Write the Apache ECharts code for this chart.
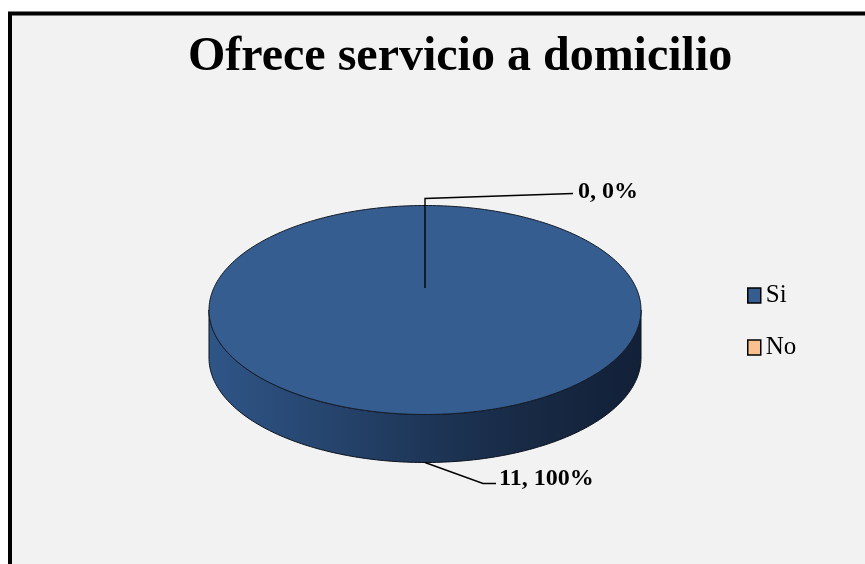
<!DOCTYPE html>
<html><head><meta charset="utf-8">
<script src="https://cdn.jsdelivr.net/npm/echarts@6/dist/echarts.min.js"></script>
<style>html,body{margin:0;padding:0;background:#fff}#c{width:865px;height:564px}</style>
</head><body><div id="c"></div>
<script>
const titleText = 'Ofrece servicio a domicilio';
const categories = ['Si', 'No'];
const values = [11, 0];

const sliceColors = ['#365d8f', '#fac08f'];
const total = values.reduce((a, b) => a + b, 0);
const starts = []; let acc = 0; values.forEach(v => { starts.push(acc); acc += v; });

const PIE = { cx: 425, cy: 310, rx: 216, ry: 104.5, depth: 48 };
function pt(th, dy, f) { f = f == null ? 1 : f; return [PIE.cx + f * PIE.rx * Math.sin(th), PIE.cy - f * PIE.ry * Math.cos(th) + (dy || 0)]; }
function arcPts(t0, t1, dy) {
  const n = Math.max(2, Math.ceil(Math.abs(t1 - t0) / (Math.PI / 180)));
  const out = [];
  for (let i = 0; i <= n; i++) out.push(pt(t0 + (t1 - t0) * i / n, dy));
  return out;
}
const sideGrad = new echarts.graphic.LinearGradient(PIE.cx - PIE.rx, 0, PIE.cx + PIE.rx, 0, [
  { offset: 0, color: '#2f5587' },
  { offset: 0.25, color: '#274670' },
  { offset: 0.5, color: '#1e3658' },
  { offset: 0.75, color: '#172943' },
  { offset: 1, color: '#122038' }
], true);

function makeRender(idx) {
  return function (params, api) {
    const v = api.value(0);
    const th0 = 2 * Math.PI * starts[idx] / total;
    const th1 = 2 * Math.PI * (starts[idx] + v) / total;
    const children = [];
    if (v > 0) {
      const f0 = Math.max(th0, Math.PI / 2), f1 = Math.min(th1, 3 * Math.PI / 2);
      if (f1 > f0) {
        const top = arcPts(f0, f1, 0), bot = arcPts(f1, f0, PIE.depth);
        children.push({ type: 'polygon', shape: { points: top.concat(bot) },
          style: { fill: sideGrad, stroke: '#0b121e', lineWidth: 1 } });
      }
      let pts = arcPts(th0, th1, 0);
      if (th1 - th0 < 2 * Math.PI - 1e-9) pts = [[PIE.cx, PIE.cy]].concat(pts);
      children.push({ type: 'polygon', shape: { points: pts },
        style: { fill: sliceColors[idx], stroke: '#141c28', lineWidth: 1 } });
    }
    // label
    const thm = (th0 + th1) / 2;
    const pct = Math.round(v / total * 100);
    const txt = v + ', ' + pct + '%';
    let line, tx, ty;
    if (Math.cos(thm) < 0) {
      const a = pt(thm, PIE.depth);
      const p1 = [a[0] + 58, a[1] + 21];
      const p2 = [p1[0] + 13, p1[1]];
      line = [a, p1, p2]; tx = p2[0] + 3; ty = p2[1] - 5;
    } else {
      const a = v > 0 ? pt(thm, 0, 0.8) : pt(thm, 0, 0.21);
      const p1 = [a[0], PIE.cy - PIE.ry - 7];
      const p2 = [p1[0] + 148, p1[1] - 5];
      line = [a, p1, p2]; tx = p2[0] + 5; ty = p2[1] - 2;
    }
    children.push({ type: 'polyline', shape: { points: line },
      style: { stroke: '#000', lineWidth: 1.4, fill: null } });
    children.push({ type: 'text', x: tx, y: ty,
      style: { text: txt, fill: '#000', font: 'bold 24px "Liberation Serif"', textAlign: 'left', textVerticalAlign: 'middle' } });
    return { type: 'group', children };
  };
}

const chart = echarts.init(document.getElementById('c'));
chart.setOption({
  backgroundColor: '#ffffff',
  animation: false,
  graphic: [{ type: 'rect', z: -10, silent: true, shape: { x: 10, y: 13.5, width: 1000, height: 1000 },
    style: { fill: '#f2f2f2', stroke: '#000', lineWidth: 4 } }],
  title: { text: titleText, left: 183, top: 29, itemGap: 0,
    textStyle: { fontFamily: 'Liberation Serif', fontWeight: 'bold', fontSize: 48, color: '#000' } },
  legend: { orient: 'vertical', left: 747, top: 283, padding: 0, itemGap: 27, itemWidth: 13, itemHeight: 15, icon: 'rect',
    itemStyle: { borderColor: '#000', borderWidth: 1.5 },
    textStyle: { fontFamily: 'Liberation Serif', fontSize: 25, color: '#000' },
    data: categories },
  series: categories.map((name, i) => ({
    type: 'custom', name: name, coordinateSystem: 'none',
    itemStyle: { color: sliceColors[i] },
    renderItem: makeRender(i),
    data: [[values[i]]]
  }))
});
</script></body></html>
